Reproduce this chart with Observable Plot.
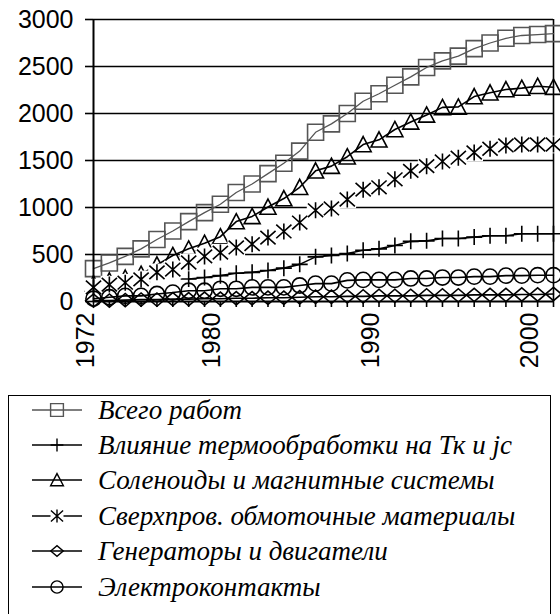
<!DOCTYPE html>
<html><head><meta charset="utf-8">
<script src="https://cdn.jsdelivr.net/npm/d3@7"></script>
<script src="https://cdn.jsdelivr.net/npm/@observablehq/plot@0.6"></script>
<style>
body{margin:0;background:#fff;width:560px;height:614px;overflow:hidden;position:relative}
#chart{position:absolute;left:0;top:0}
#legend{position:absolute;left:8px;top:395px;width:543px;height:260px;border:1.5px solid #000;box-sizing:border-box;background:#fff}
.row{position:absolute;left:0;height:30px;display:flex;align-items:center}
.row svg{display:block;flex:none}
.row span{font-family:"Liberation Serif","Times New Roman",serif;font-style:italic;font-size:27px;line-height:30px;color:#000;white-space:nowrap;margin-left:5px}
</style></head><body><div id="chart"></div><div id="legend"></div>
<script>
const years = [1972,1973,1974,1975,1976,1977,1978,1979,1980,1981,1982,1983,1984,1985,1986,1987,1988,1989,1990,1991,1992,1993,1994,1995,1996,1997,1998,1999,2000,2001];
const yTicks = [0,500,1000,1500,2000,2500,3000];
const xLabels = [1972,1980,1990,2000];
const names = ["Всего работ","Влияние термообработки на Тк и jc","Соленоиды и магнитные системы","Сверхпров. обмоточные материалы","Генераторы и двигатели","Электроконтакты"];
const total = [350,410,480,560,660,750,850,945,1035,1160,1250,1360,1470,1600,1800,1890,2000,2130,2210,2300,2390,2490,2560,2610,2690,2750,2800,2830,2840,2850];
const heat  = [null,null,null,null,null,null,240,255,275,300,310,330,355,395,475,490,510,545,560,595,640,645,670,670,685,700,700,720,720,720];
const sol   = [190,220,250,290,390,490,560,620,690,850,905,1005,1095,1215,1390,1440,1540,1670,1720,1830,1910,1985,2065,2070,2180,2220,2255,2270,2290,2280];
const wind  = [150,180,200,235,310,340,415,480,520,575,610,680,745,840,970,990,1085,1190,1215,1300,1390,1440,1490,1530,1585,1625,1660,1670,1670,1670];
const gen   = [10,10,15,20,20,25,25,30,30,35,35,40,40,45,50,50,55,55,60,60,60,65,65,65,70,70,70,75,75,80];
const cont  = [30,45,60,60,80,95,115,115,135,135,150,150,150,170,190,190,225,230,230,230,245,245,255,255,265,265,275,275,280,280];

// custom marker shapes (drawn via the symbol channel)
const starSym = {draw(ctx, size) { const r = Math.sqrt(size / Math.PI); const a = r * 0.95, b = r * 0.85;
  ctx.moveTo(0, -r); ctx.lineTo(0, r); ctx.moveTo(-a, -b); ctx.lineTo(a, b); ctx.moveTo(-a, b); ctx.lineTo(a, -b); }};
const diamSym = {draw(ctx, size) { const r = Math.sqrt(size / Math.PI); const h = r * 0.85;
  ctx.moveTo(-r, 0); ctx.lineTo(0, -h); ctx.lineTo(r, 0); ctx.lineTo(0, h); ctx.closePath(); }};
const plusSym = {draw(ctx, size) { const r = Math.sqrt(size / Math.PI);
  ctx.moveTo(-r, 0); ctx.lineTo(r, 0); ctx.moveTo(0, -r); ctx.lineTo(0, r); }};
const sqSym = {draw(ctx, size) { const r = Math.sqrt(size / Math.PI);
  ctx.moveTo(-r, -r); ctx.lineTo(r, -r); ctx.lineTo(r, r); ctx.lineTo(-r, r); ctx.closePath(); }};
const triSym = {draw(ctx, size) { const r = Math.sqrt(size / Math.PI);
  ctx.moveTo(0, -r); ctx.lineTo(r, r * 0.9); ctx.lineTo(-r, r * 0.9); ctx.closePath(); }};
const circSym = {draw(ctx, size) { const r = Math.sqrt(size / Math.PI);
  ctx.moveTo(r, 0); ctx.arc(0, 0, r, 0, 2 * Math.PI); }};

const valuesList = [total, heat, sol, wind, gen, cont];
const symbols = [sqSym, plusSym, triSym, starSym, diamSym, circSym];
const strokes = ["#555","#000","#000","#000","#000","#000"];
const radii = [8, 8, 8, 8, 7.8, 7.6];

const rows = names.map((n, k) => years.map((y, i) => ({year: y, value: valuesList[k][i], name: n})));

const marks = [
  Plot.ruleY(yTicks.slice(1), {stroke: "#000", strokeWidth: 1.6}),
  Plot.ruleX([years[years.length-1]], {y1: 0, y2: 3000, stroke: "#000", strokeWidth: 1.6})
];
rows.forEach((d, k) => {
  const data = d.filter(r => r.value != null);
  marks.push(Plot.line(d, {x: "year", y: "value", stroke: strokes[k], strokeWidth: k === 0 ? 1.3 : 1.6}));
  if (symbols[k] === starSym) {
    marks.push(Plot.dot(data, {x: "year", y: "value", symbol: sqSym, r: 8.8, fill: "#fff", stroke: "none"}));
  }
  marks.push(Plot.dot(data, {x: "year", y: "value", symbol: symbols[k], r: radii[k], fill: "none", stroke: strokes[k], strokeWidth: 1.6}));
});
marks.push(
  Plot.ruleX([years[0]], {y1: 0, y2: 3000, stroke: "#000", strokeWidth: 2}),
  Plot.ruleY([0], {stroke: "#000", strokeWidth: 2}),
  Plot.axisY({ticks: yTicks, tickSize: 8, tickPadding: 12, tickFormat: d => String(d), fontSize: 25, label: null, strokeWidth: 1.6}),
  Plot.axisX({ticks: years, tickSize: 6, tickFormat: () => "", label: null, strokeWidth: 1.6}),
  Plot.text(xLabels, {x: d => d, text: d => String(d), frameAnchor: "bottom", rotate: -90, textAnchor: "end", dy: 11, fontSize: 25, fill: "#000"})
);

const chart = Plot.plot({
  width: 560, height: 385,
  marginLeft: 93, marginRight: 7, marginTop: 19, marginBottom: 84,
  x: {domain: [1972, 2001]},
  y: {domain: [0, 3000]},
  style: {fontFamily: "'Liberation Sans', Arial, sans-serif", fontSize: "25px", color: "#000", background: "#fff", overflow: "visible"},
  marks
});
document.getElementById("chart").appendChild(chart);

// legend
const legend = document.getElementById("legend");
names.forEach((n, k) => {
  const row = document.createElement("div");
  row.className = "row";
  row.style.top = (-1.5 + k * 35.4) + "px";
  const svg = d3.create("svg").attr("width", 84).attr("height", 30);
  svg.append("line").attr("x1", 23).attr("x2", 73).attr("y1", 15).attr("y2", 15)
    .attr("stroke", strokes[k]).attr("stroke-width", 1.5);
  const rr = radii[k] * 0.8;
  if (symbols[k] === starSym) {
    svg.append("rect").attr("x", 48 - 6.5).attr("y", 15 - 6.5).attr("width", 13).attr("height", 13).attr("fill", "#fff");
  }
  svg.append("path").attr("transform", "translate(48,15)")
    .attr("d", d3.symbol(symbols[k], Math.PI * rr * rr)())
    .attr("fill", "none").attr("stroke", strokes[k]).attr("stroke-width", 1.4);
  row.appendChild(svg.node());
  const span = document.createElement("span");
  span.textContent = n;
  row.appendChild(span);
  legend.appendChild(row);
});
</script>
</body></html>
